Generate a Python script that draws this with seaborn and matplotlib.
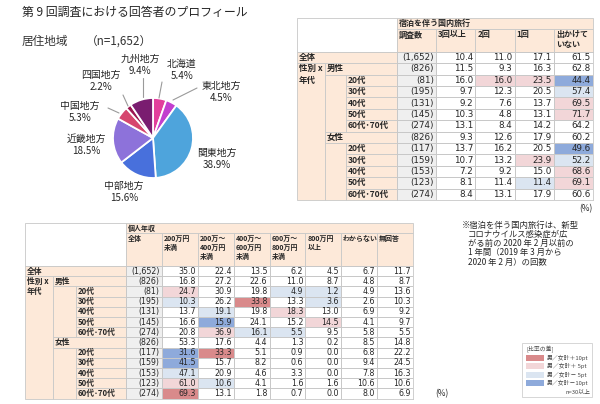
import numpy as np
import matplotlib
matplotlib.use("Agg")
import matplotlib.pyplot as plt
import matplotlib.patches as mpatches
from matplotlib.colors import ListedColormap
import seaborn as sns

# ---------------- data ----------------
regions = ["北海道", "東北地方", "関東地方", "中部地方", "近畿地方", "中国地方", "四国地方", "九州地方"]
region_share = [5.4, 4.5, 38.9, 15.6, 18.5, 5.3, 2.2, 9.4]
region_colors = ["#e23f9c", "#c23fce", "#4ea4dc", "#4870dc", "#8d72da", "#d6466e", "#9c1752", "#7a1d70"]

age_labels = ["20代", "30代", "40代", "50代", "60代･70代"]
sample_n = [1652, 826, 81, 195, 131, 145, 274, 826, 117, 159, 153, 123, 274]

trip_cols = ["3回以上", "2回", "1回", "出かけて\nいない"]
trip_3plus = [10.4, 11.5, 16.0, 9.7, 9.2, 10.3, 13.1, 9.3, 13.7, 10.7, 7.2, 8.1, 8.4]
trip_2 = [11.0, 9.3, 16.0, 12.3, 7.6, 4.8, 8.4, 12.6, 16.2, 13.2, 9.2, 11.4, 13.1]
trip_1 = [17.1, 16.3, 23.5, 20.5, 13.7, 13.1, 14.2, 17.9, 20.5, 23.9, 15.0, 11.4, 17.9]
trip_none = [61.5, 62.8, 44.4, 57.4, 69.5, 71.7, 64.2, 60.2, 49.6, 52.2, 68.6, 69.1, 60.6]

inc_cols = ["200万円\n未満", "200万～\n400万円\n未満", "400万～\n600万円\n未満",
            "600万～\n800万円\n未満", "800万円\n以上", "わからない", "無回答"]
inc_u200 = [35.0, 16.8, 24.7, 10.3, 13.7, 16.6, 20.8, 53.3, 31.6, 41.5, 47.1, 61.0, 69.3]
inc_200_400 = [22.4, 27.2, 30.9, 26.2, 19.1, 15.9, 36.9, 17.6, 33.3, 15.7, 20.9, 10.6, 13.1]
inc_400_600 = [13.5, 22.6, 19.8, 33.8, 19.8, 24.1, 16.1, 4.4, 5.1, 8.2, 4.6, 4.1, 1.8]
inc_600_800 = [6.2, 11.0, 4.9, 13.3, 18.3, 15.2, 5.5, 1.3, 0.9, 0.6, 3.3, 1.6, 0.7]
inc_800plus = [4.5, 8.7, 1.2, 3.6, 13.0, 14.5, 9.5, 0.2, 0.0, 0.0, 0.0, 1.6, 0.0]
inc_unknown = [6.7, 4.8, 4.9, 2.6, 6.9, 4.1, 5.8, 8.5, 6.8, 9.4, 7.8, 10.6, 8.0]
inc_noans = [11.7, 8.7, 13.6, 10.3, 9.2, 9.7, 5.5, 14.8, 22.2, 24.5, 16.3, 10.6, 6.9]

# row -> row it is compared with (男性計 / 女性計)
ref_rows = [None, None, 1, 1, 1, 1, 1, None, 7, 7, 7, 7, 7]

legend_labels = ["男／女計＋10pt", "男／女計＋ 5pt", "男／女計－ 5pt", "男／女計－10pt"]

# ---------------- style ----------------
sns.set_theme(style="white")
plt.rcParams["font.family"] = ["Noto Sans CJK JP", "DejaVu Sans"]

W, H = 600, 404
PEACH = "#fde9d9"
GRID = "#c8c8c8"
TXT = "#262626"
diff_colors = ["#8eaadb", "#dbe5f1", "#ffffff", "#f2d6d8", "#d98a8b", "#efefef"]
cell_cmap = ListedColormap(diff_colors)

fig = plt.figure(figsize=(W / 100, H / 100), dpi=100)
fig.patch.set_facecolor("white")

ov = fig.add_axes([0, 0, 1, 1])
ov.set_xlim(0, W)
ov.set_ylim(H, 0)
ov.axis("off")


def px_box(x0, y0, x1, y1):
    return [x0 / W, 1 - y1 / H, (x1 - x0) / W, (y1 - y0) / H]


def cell(x0, y0, x1, y1, fc=PEACH):
    ov.add_patch(mpatches.Rectangle((x0, y0), x1 - x0, y1 - y0, facecolor=fc,
                                    edgecolor=GRID, linewidth=0.6))


def label(x, y, s, fs, **kw):
    ov.text(x, y, s, fontsize=fs, color=TXT, va="center", ha="left", fontweight="bold", **kw)


# ---------------- titles ----------------
ov.text(22, 12, "第 9 回調査における回答者のプロフィール", fontsize=8.6, color=TXT, va="center")
ov.text(22, 42, "居住地域", fontsize=8.4, color="#333333", va="center")
ov.text(86, 42, "（n=1,652）", fontsize=8.4, color="#333333", va="center")

# ---------------- pie ----------------
pa = fig.add_axes([0, 0, 1, 1])
pc = (153, H - 138)
pa.pie(region_share, colors=region_colors, startangle=90, counterclock=False,
       center=pc, radius=40, wedgeprops=dict(edgecolor="white", linewidth=1.3))
pa.set_aspect("auto")
pa.set_xlim(0, W)
pa.set_ylim(0, H)
pa.axis("off")

pie_label_pos = [(182, 70), (221, 92), (217, 159), (124, 192), (86, 145), (80, 112), (101, 81), (140, 65)]
pie_leaders = [((159, 98), (162, 82)), ((173, 100), (197, 88)), None, None, None,
               ((119, 113), (108, 108)), ((128, 106), (123, 95)), ((143, 97), (143, 78))]
for name, share, (lx, ly), lead in zip(regions, region_share, pie_label_pos, pie_leaders):
    pa.text(lx, H - ly, f"{name}\n{share:.1f}%", fontsize=7.1, color=TXT,
            ha="center", va="center", linespacing=1.2)
    if lead is not None:
        (ax0, ay0), (ax1, ay1) = lead
        pa.plot([ax0, ax1], [H - ay0, H - ay1], color="#9a9a9a", lw=0.8)


# ---------------- tables ----------------
def diff_codes(cols, colored):
    vals = np.column_stack(cols)
    codes = np.zeros((len(sample_n), len(cols) + 1))
    codes[:, 0] = 3
    for i, r in enumerate(ref_rows):
        if r is None:
            continue
        d = vals[i] - vals[r]
        c = np.select([d >= 10, d >= 5, d <= -10, d <= -5], [2, 1, -2, -1], 0)
        codes[i, 1:] = np.where(colored, c, 0)
    return codes


def draw_table(xs, x_right, head_top, head_mid, data_top, data_bot, cols, col_names,
               group_title, n_title, colored, head_fs, fs, num_fs, line_gap):
    ncol = len(cols) + 1
    row_h = (data_bot - data_top) / len(sample_n)
    col_w = (x_right - xs[3]) / ncol
    rows = [data_top + k * row_h for k in range(len(sample_n) + 1)]
    xa, xb, xc, xd = xs

    # header
    cell(xa, head_top, xd, data_top, "white")
    cell(xd, head_top, x_right, head_mid)
    label(xd + 2, (head_top + head_mid) / 2, group_title, head_fs)
    for j, name in enumerate([n_title] + col_names):
        x0 = xd + j * col_w
        cell(x0, head_mid, x0 + col_w, data_top)
        ov.text(x0 + 2, head_mid + 1.5, name, fontsize=head_fs, color=TXT, va="top", ha="left",
                fontweight="bold", linespacing=line_gap)

    # row labels
    cell(xa, rows[0], xd, rows[1])
    label(xa + 2, (rows[0] + rows[1]) / 2, "全体", fs)
    cell(xa, rows[1], xb, rows[-1])
    label(xa + 2, (rows[1] + rows[2]) / 2, "性別 x", fs)
    label(xa + 2, (rows[2] + rows[3]) / 2, "年代", fs)
    for g, name in [(1, "男性"), (7, "女性")]:
        cell(xb, rows[g], xd, rows[g + 1])
        label(xb + 2, (rows[g] + rows[g + 1]) / 2, name, fs)
        cell(xb, rows[g + 1], xc, rows[g + 6])
        for k, age in enumerate(age_labels):
            r = g + 1 + k
            cell(xc, rows[r], xd, rows[r + 1])
            label(xc + 2, (rows[r] + rows[r + 1]) / 2, age, fs)

    # numbers
    codes = diff_codes(cols, colored)
    annot = np.column_stack([[f"({v:,})" for v in sample_n]] +
                            [[f"{v:.1f}" for v in c] for c in cols])
    hx = fig.add_axes(px_box(xd, data_top, x_right, data_bot))
    sns.heatmap(codes, ax=hx, cmap=cell_cmap, vmin=-2.5, vmax=3.5, cbar=False,
                annot=annot, fmt="", linewidths=0.6, linecolor=GRID,
                xticklabels=False, yticklabels=False,
                annot_kws=dict(color=TXT, fontsize=num_fs, family="DejaVu Sans"))
    for t in hx.texts:
        x, y = t.get_position()
        t.set_position((x + 0.44, y))
        t.set_ha("right")
    for s in hx.spines.values():
        s.set_visible(True)
        s.set_color(GRID)
        s.set_linewidth(0.6)


draw_table([297, 325, 346, 397], 593, 18, 29, 51.7, 200,
           [trip_3plus, trip_2, trip_1, trip_none], trip_cols,
           "宿泊を伴う国内旅行", "調査数", [True] * 4, 5.8, 6.1, 6.3, 1.1)
ov.text(593, 209, "(%)", fontsize=6, color=TXT, ha="right", va="center")

draw_table([25, 53, 76, 126], 413, 223, 233, 266, 398.6,
           [inc_u200, inc_200_400, inc_400_600, inc_600_800, inc_800plus, inc_unknown, inc_noans],
           inc_cols, "個人年収", "全体", [True] * 5 + [False] * 2, 5.0, 5.6, 5.7, 1.4)
ov.text(435, 394, "(%)", fontsize=6, color=TXT, ha="left", va="center")

# ---------------- note ----------------
note_lines = ["※宿泊を伴う国内旅行は、新型", "コロナウイルス感染症が広",
              "がる前の 2020 年 2 月以前の", "1 年間（2019 年 3 月から", "2020 年 2 月）の回数"]
for k, line in enumerate(note_lines):
    ov.text(462 if k == 0 else 468, 225 + 9.3 * k, line, fontsize=6.0, color=TXT, va="center")

# ---------------- legend ----------------
ov.add_patch(mpatches.Rectangle((522, 343), 70, 54, facecolor="white", edgecolor="#d0d0d0", linewidth=0.6))
ov.text(526, 349, "[比率の差]", fontsize=4.2, color="#444444", va="center")
for k, (lab, col) in enumerate(zip(legend_labels, [diff_colors[4], diff_colors[3], diff_colors[1], diff_colors[0]])):
    y0 = 355 + 8.3 * k
    ov.add_patch(mpatches.Rectangle((526, y0), 18, 6, facecolor=col, edgecolor="none"))
    ov.text(547, y0 + 3, lab, fontsize=4.2, color="#444444", va="center")
ov.text(566, 392, "n=30以上", fontsize=4.2, color="#444444", va="center")

fig.savefig("out.png", dpi=100)
